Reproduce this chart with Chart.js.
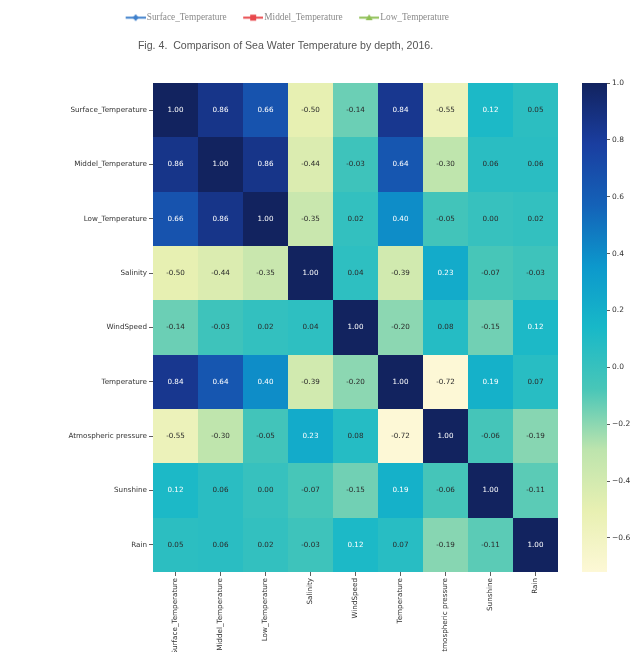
<!DOCTYPE html>
<html>
<head>
<meta charset="utf-8">
<script src="https://cdn.jsdelivr.net/npm/chart.js@4.4.0/dist/chart.umd.min.js"></script>
<style>
  html, body { margin: 0; padding: 0; background: #fff; overflow: hidden; }
  body { width: 641px; height: 652px; position: relative; }
  canvas { position: absolute; }
  #heatmap { left: 0; top: 0; }
  #colorbar { left: 575px; top: 0; }
  #legendChart { left: 0; top: 0; }
</style>
</head>
<body>
<canvas id="heatmap" width="564" height="700"></canvas>
<canvas id="colorbar" width="66" height="652"></canvas>
<canvas id="legendChart" width="571" height="52"></canvas>
<script>
// variables of the correlation matrix (rows top to bottom, columns left to right)
const variables = ['Surface_Temperature', 'Middel_Temperature', 'Low_Temperature', 'Salinity', 'WindSpeed',
  'Temperature', 'Atmospheric pressure', 'Sunshine', 'Rain'];

const surfaceRow  = [1.00, 0.86, 0.66, -0.50, -0.14, 0.84, -0.55, 0.12, 0.05];
const middelRow   = [0.86, 1.00, 0.86, -0.44, -0.03, 0.64, -0.30, 0.06, 0.06];
const lowRow      = [0.66, 0.86, 1.00, -0.35, 0.02, 0.40, -0.05, 0.00, 0.02];
const salinityRow = [-0.50, -0.44, -0.35, 1.00, 0.04, -0.39, 0.23, -0.07, -0.03];
const windRow     = [-0.14, -0.03, 0.02, 0.04, 1.00, -0.20, 0.08, -0.15, 0.12];
const tempRow     = [0.84, 0.64, 0.40, -0.39, -0.20, 1.00, -0.72, 0.19, 0.07];
const atmRow      = [-0.55, -0.30, -0.05, 0.23, 0.08, -0.72, 1.00, -0.06, -0.19];
const sunshineRow = [0.12, 0.06, 0.00, -0.07, -0.15, 0.19, -0.06, 1.00, -0.11];
const rainRow     = [0.05, 0.06, 0.02, -0.03, 0.12, 0.07, -0.19, -0.11, 1.00];
const corrRows = [surfaceRow, middelRow, lowRow, salinityRow, windRow, tempRow, atmRow, sunshineRow, rainRow];

// colour scale range and colorbar ticks
const colorMin = -0.72;
const colorMax = 1.0;
const colorbarTicks = [-0.6, -0.4, -0.2, 0.0, 0.2, 0.4, 0.6, 0.8, 1.0];

// legend + caption from the figure above
const seriesNames = ['Surface_Temperature', 'Middel_Temperature', 'Low_Temperature'];
const caption = 'Fig. 4.  Comparison of Sea Water Temperature by depth, 2016.';

// YlGnBu stops (used for the text colour choice, like seaborn)
const ylgnbu = ['#ffffd9', '#edf8b1', '#c7e9b4', '#7fcdbb', '#41b6c4', '#1d91c0', '#225ea8', '#253494', '#081d58'];
// same stops as they look in the (more saturated) picture
const shownStops = ['#fdf8d6', '#e8f0b2', '#bde4ad', '#48c6b8', '#18b8c8', '#0c98cc', '#1462b8', '#1a3ea0', '#12235f'];

function hexToRgb(h) {
  return [parseInt(h.slice(1, 3), 16), parseInt(h.slice(3, 5), 16), parseInt(h.slice(5, 7), 16)];
}
function colorFor(v, stops) {
  let t = (v - colorMin) / (colorMax - colorMin);
  t = Math.max(0, Math.min(1, t)) * (stops.length - 1);
  const i = Math.min(Math.floor(t), stops.length - 2);
  const f = t - i;
  const a = hexToRgb(stops[i]), b = hexToRgb(stops[i + 1]);
  return a.map((c, k) => Math.round(c + (b[k] - c) * f));
}
function luminance(rgb) {
  const c = rgb.map(x => {
    x /= 255;
    return x <= 0.03928 ? x / 12.92 : Math.pow((x + 0.055) / 1.055, 2.4);
  });
  return 0.2126 * c[0] + 0.7152 * c[1] + 0.0722 * c[2];
}

const cellData = [];
corrRows.forEach((row, r) => {
  row.forEach((v, c) => cellData.push({x: variables[c], y: variables[r], v: v}));
});

const labelFont = {family: 'DejaVu Sans', size: 7.2};

// draws each cell around the point that the category scales placed
const cellPlugin = {
  id: 'cells',
  beforeDatasetsDraw(chart) {
    const {ctx, scales: {x, y}} = chart;
    const w = x.width / variables.length;
    const h = y.height / variables.length;
    const meta = chart.getDatasetMeta(0);
    const data = chart.data.datasets[0].data;
    ctx.save();
    meta.data.forEach((pt, i) => {
      const rgb = colorFor(data[i].v, shownStops);
      const l = Math.round(pt.x - w / 2), r = Math.round(pt.x + w / 2);
      const t = Math.round(pt.y - h / 2), b = Math.round(pt.y + h / 2);
      ctx.fillStyle = 'rgb(' + rgb.join(',') + ')';
      ctx.fillRect(l, t, r - l, b - t);
      ctx.fillStyle = luminance(colorFor(data[i].v, ylgnbu)) > 0.408 ? '#2a2a2a' : '#ffffff';
      ctx.font = labelFont.size + 'px ' + labelFont.family;
      ctx.textAlign = 'center';
      ctx.textBaseline = 'middle';
      ctx.fillText(data[i].v.toFixed(2), pt.x, pt.y);
    });
    ctx.restore();
  }
};

new Chart(document.getElementById('heatmap'), {
  type: 'scatter',
  data: {
    datasets: [{data: cellData, pointRadius: 0, pointHoverRadius: 0}]
  },
  options: {
    responsive: false,
    animation: false,
    events: [],
    layout: {padding: {top: 83, right: 6, left: 0, bottom: 0}},
    plugins: {legend: {display: false}, tooltip: {enabled: false}},
    scales: {
      x: {
        type: 'category',
        labels: variables,
        offset: true,
        grid: {drawOnChartArea: false, offset: false, tickLength: 4, color: '#333', lineWidth: 0.8},
        border: {display: false},
        ticks: {autoSkip: false, minRotation: 90, maxRotation: 90, padding: 2, color: '#333', font: labelFont},
        afterFit: s => { s.height = 128; }
      },
      y: {
        type: 'category',
        labels: variables,
        offset: true,
        grid: {drawOnChartArea: false, offset: false, tickLength: 4, color: '#333', lineWidth: 0.8},
        border: {display: false},
        ticks: {autoSkip: false, padding: 2, color: '#333', font: labelFont},
        afterFit: s => { s.width = 153; }
      }
    }
  },
  plugins: [cellPlugin]
});

// colorbar: gradient filled into chart area, value axis on the right
const gradientPlugin = {
  id: 'gradient',
  beforeDatasetsDraw(chart) {
    const {ctx, chartArea: a} = chart;
    const g = ctx.createLinearGradient(0, a.bottom, 0, a.top);
    shownStops.forEach((c, i) => g.addColorStop(i / (shownStops.length - 1), c));
    ctx.save();
    ctx.fillStyle = g;
    ctx.fillRect(a.left, a.top, a.right - a.left, a.bottom - a.top);
    ctx.restore();
  }
};

new Chart(document.getElementById('colorbar'), {
  type: 'scatter',
  data: {datasets: [{data: []}]},
  options: {
    responsive: false,
    animation: false,
    events: [],
    layout: {padding: {top: 83, bottom: 80, left: 7, right: 0}},
    plugins: {legend: {display: false}, tooltip: {enabled: false}},
    scales: {
      x: {display: false},
      y: {
        type: 'linear',
        position: 'right',
        min: colorMin,
        max: colorMax,
        afterBuildTicks: s => { s.ticks = colorbarTicks.map(v => ({value: v})); },
        grid: {drawOnChartArea: false, tickLength: 3, color: '#333', lineWidth: 0.8},
        border: {display: false},
        ticks: {
          padding: 2,
          color: '#333',
          font: {family: 'DejaVu Sans', size: 7.5},
          callback: v => (Math.abs(v) < 1e-9 ? '0.0' : v.toFixed(1).replace('-', '\u2212'))
        },
        afterFit: s => { s.width = 34; }
      }
    }
  },
  plugins: [gradientPlugin]
});

// legend markers: short line with marker, like the line chart above the heatmap
function markerImage(color, shape) {
  const c = document.createElement('canvas');
  c.width = 27; c.height = 9;
  const g = c.getContext('2d');
  g.strokeStyle = color; g.fillStyle = color; g.lineWidth = 2;
  g.beginPath(); g.moveTo(7, 4.5); g.lineTo(27, 4.5); g.stroke();
  const cx = 17, cy = 4.5;
  g.beginPath();
  if (shape === 'diamond') {
    g.moveTo(cx, cy - 3.5); g.lineTo(cx + 3, cy); g.lineTo(cx, cy + 3.5); g.lineTo(cx - 3, cy);
  } else if (shape === 'square') {
    g.rect(cx - 3, cy - 3, 6, 6);
  } else {
    g.moveTo(cx, cy - 3.5); g.lineTo(cx + 3.5, cy + 2.5); g.lineTo(cx - 3.5, cy + 2.5);
  }
  g.closePath();
  g.fill();
  return c;
}
const seriesColors = ['#3f80cc', '#e8484c', '#8fbf55'];
const seriesShapes = ['diamond', 'square', 'triangle'];

new Chart(document.getElementById('legendChart'), {
  type: 'line',
  data: {
    labels: [],
    datasets: seriesNames.map((n, i) => ({label: n, data: [], borderColor: seriesColors[i]}))
  },
  options: {
    responsive: false,
    animation: false,
    events: [],
    scales: {x: {display: false}, y: {display: false}},
    plugins: {
      tooltip: {enabled: false},
      legend: {
        position: 'top',
        labels: {
          usePointStyle: true,
          pointStyleWidth: 20,
          padding: 13,
          font: {family: 'Liberation Serif', size: 9.3},
          generateLabels: chart => seriesNames.map((n, i) => ({
            text: n,
            datasetIndex: i,
            hidden: false,
            lineWidth: 0,
            fontColor: '#8a8a8a',
            pointStyle: markerImage(seriesColors[i], seriesShapes[i])
          }))
        }
      },
      title: {
        display: true,
        position: 'bottom',
        text: caption,
        color: '#555',
        padding: {top: 1, bottom: 0},
        font: {family: "'Liberation Sans Narrow', 'Liberation Sans'", size: 10.6, weight: 'normal'}
      }
    }
  }
});
</script>
</body>
</html>
